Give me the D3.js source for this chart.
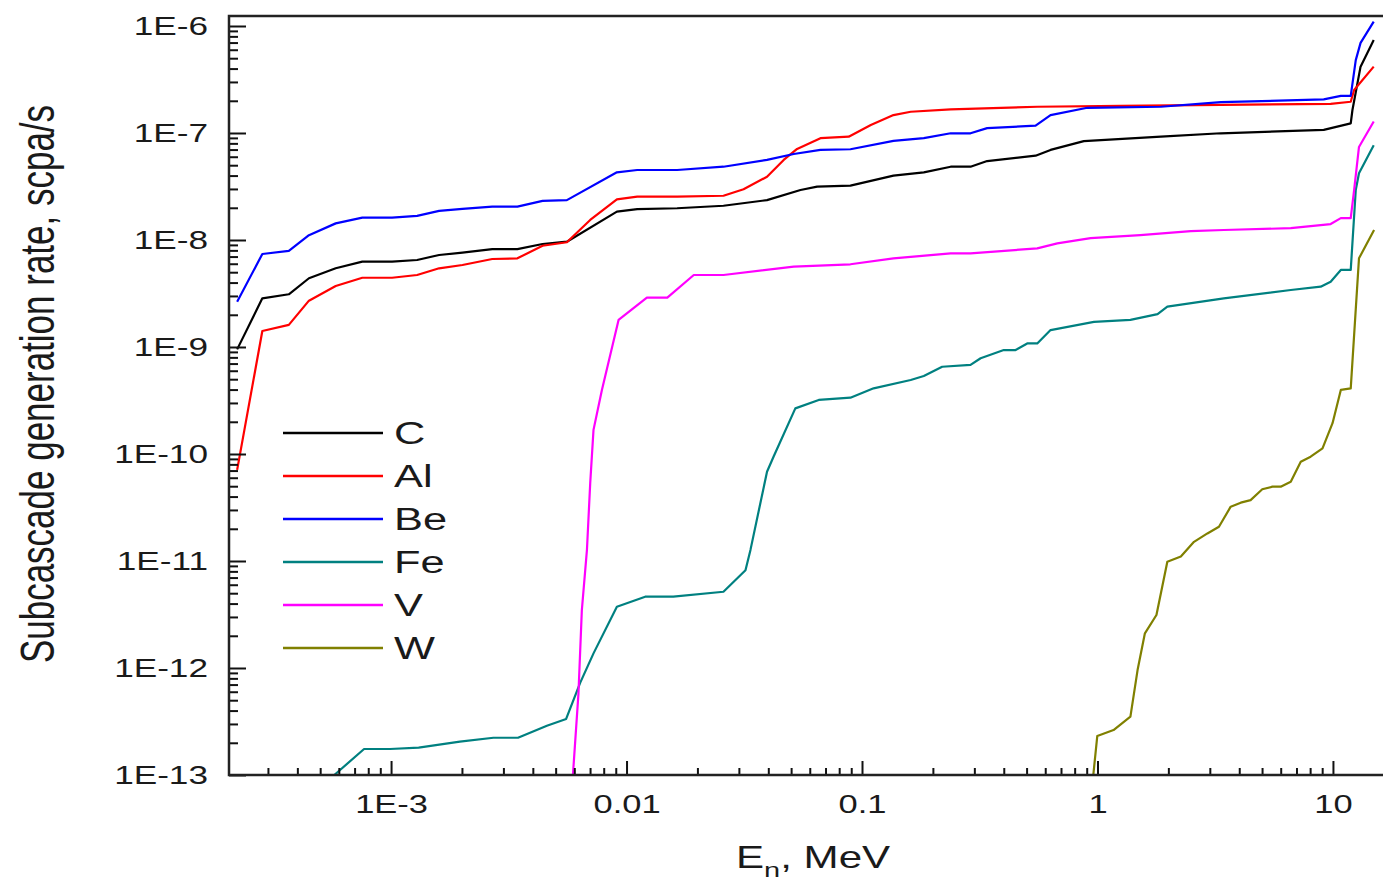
<!DOCTYPE html>
<html lang="en">
<head>
<meta charset="utf-8">
<title>Subcascade generation rate</title>
<script src="https://d3js.org/d3.v7.min.js"></script>
<style type="text/css">
  body {
    margin: 0;
    background: #fff;
  }
  text {
    font-family: Arial, "Liberation Sans", sans-serif;
    fill: #1a1a1a;
  }
  .series {
    fill: none;
    stroke-width: 2.2;
    stroke-linejoin: round;
  }
  .frame {
    fill: none;
    stroke: #222;
    stroke-width: 2.5;
  }
</style>
</head>
<body>
<script type="text/javascript">

// neutron energy E_n (MeV) vs subcascade generation rate (scpa/s)
var C = [[2.22e-4, 9.5e-10], [2.84e-4, 2.85e-9], [3.68e-4, 3.11e-9], [4.48e-4, 4.39e-9], [5.82e-4, 5.44e-9],
         [7.55e-4, 6.27e-9], [1.01e-3, 6.27e-9], [1.29e-3, 6.5e-9], [1.6e-3, 7.24e-9], [2.01e-3, 7.62e-9],
         [2.69e-3, 8.23e-9], [3.44e-3, 8.23e-9], [4.4e-3, 9.18e-9], [5.58e-3, 9.64e-9], [9.1e-3, 1.84e-8],
         [0.0111, 1.94e-8], [0.0164, 1.98e-8], [0.0258, 2.09e-8], [0.0395, 2.36e-8], [0.0548, 2.93e-8],
         [0.0645, 3.15e-8], [0.0893, 3.22e-8], [0.136, 3.99e-8], [0.183, 4.29e-8], [0.238, 4.84e-8],
         [0.289, 4.84e-8], [0.34, 5.47e-8], [0.546, 6.14e-8], [0.632, 6.95e-8], [0.875, 8.4e-8],
         [1.86, 9.23e-8], [3.34, 9.94e-8], [9.14, 1.07e-7], [11.9, 1.23e-7], [12.1, 1.64e-7],
         [13.1, 4.17e-7], [14.9, 7.4e-7]];

var Al = [[2.22e-4, 7.1e-11], [2.84e-4, 1.41e-9], [3.68e-4, 1.61e-9], [4.48e-4, 2.71e-9], [5.82e-4, 3.71e-9],
          [7.55e-4, 4.44e-9], [1.01e-3, 4.44e-9], [1.29e-3, 4.71e-9], [1.6e-3, 5.44e-9], [2.01e-3, 5.84e-9],
          [2.69e-3, 6.64e-9], [3.44e-3, 6.74e-9], [4.4e-3, 8.84e-9], [5.58e-3, 9.52e-9], [7.01e-3, 1.54e-8],
          [9.1e-3, 2.4e-8], [0.0111, 2.54e-8], [0.0164, 2.54e-8], [0.0258, 2.59e-8], [0.0314, 2.98e-8],
          [0.0395, 3.9e-8], [0.0465, 5.6e-8], [0.053, 7.1e-8], [0.0666, 8.95e-8], [0.0878, 9.23e-8],
          [0.109, 1.19e-7], [0.136, 1.47e-7], [0.161, 1.58e-7], [0.238, 1.66e-7], [0.555, 1.76e-7],
          [1.25, 1.79e-7], [3.34, 1.83e-7], [9.78, 1.87e-7], [11.9, 1.96e-7], [12.3, 2.52e-7],
          [14.9, 4.17e-7]];

var Be = [[2.22e-4, 2.65e-9], [2.84e-4, 7.4e-9], [3.68e-4, 7.9e-9], [4.48e-4, 1.11e-8], [5.82e-4, 1.43e-8],
          [7.55e-4, 1.62e-8], [1.01e-3, 1.62e-8], [1.29e-3, 1.68e-8], [1.6e-3, 1.87e-8], [2.01e-3, 1.95e-8],
          [2.69e-3, 2.05e-8], [3.44e-3, 2.05e-8], [4.4e-3, 2.32e-8], [5.58e-3, 2.36e-8], [9.1e-3, 4.29e-8],
          [0.0111, 4.51e-8], [0.0164, 4.51e-8], [0.0258, 4.84e-8], [0.0395, 5.6e-8], [0.0513, 6.36e-8],
          [0.0666, 6.95e-8], [0.0893, 7.05e-8], [0.136, 8.45e-8], [0.183, 8.95e-8], [0.238, 9.94e-8],
          [0.289, 9.94e-8], [0.34, 1.11e-7], [0.546, 1.17e-7], [0.632, 1.47e-7], [0.905, 1.72e-7],
          [1.86, 1.76e-7], [3.34, 1.94e-7], [9.14, 2.06e-7], [10.8, 2.22e-7], [11.9, 2.22e-7],
          [12.5, 4.8e-7], [13.1, 6.95e-7], [14.9, 1.1e-6]];

var Fe = [[5.74e-4, 1e-13], [7.68e-4, 1.75e-13], [9.9e-4, 1.75e-13], [1.31e-3, 1.8e-13], [1.96e-3, 2.05e-13],
          [2.72e-3, 2.23e-13], [3.46e-3, 2.23e-13], [4.59e-3, 2.89e-13], [5.54e-3, 3.34e-13], [6.36e-3, 7.3e-13],
          [7.24e-3, 1.37e-12], [9.1e-3, 3.74e-12], [0.012, 4.64e-12], [0.0158, 4.64e-12], [0.0258, 5.16e-12],
          [0.032, 8.2e-12], [0.0336, 1.27e-11], [0.0395, 6.83e-11], [0.0421, 9.43e-11], [0.0521, 2.67e-10],
          [0.0655, 3.2e-10], [0.0893, 3.36e-10], [0.112, 4.11e-10], [0.161, 4.92e-10], [0.183, 5.35e-10],
          [0.219, 6.54e-10], [0.289, 6.8e-10], [0.319, 7.85e-10], [0.4, 9.36e-10], [0.449, 9.36e-10],
          [0.503, 1.08e-9], [0.555, 1.08e-9], [0.632, 1.44e-9], [0.966, 1.72e-9], [1.38, 1.79e-9],
          [1.8, 2.03e-9], [1.98, 2.38e-9], [3.44, 2.85e-9], [6.62, 3.41e-9], [8.87, 3.66e-9],
          [9.78, 4.08e-9], [10.8, 5.25e-9], [11.9, 5.25e-9], [12.5, 2.93e-8], [12.9, 4.2e-8],
          [14.9, 7.7e-8]];

var V = [[5.92e-3, 1e-13], [6.25e-3, 5.8e-13], [6.46e-3, 3.48e-12], [6.79e-3, 1.27e-11], [7.01e-3, 5.32e-11],
         [7.24e-3, 1.68e-10], [7.86e-3, 3.97e-10], [9.25e-3, 1.79e-9], [0.0122, 2.89e-9], [0.0149, 2.89e-9],
         [0.0193, 4.71e-9], [0.0258, 4.71e-9], [0.0513, 5.64e-9], [0.0893, 5.93e-9], [0.136, 6.74e-9],
         [0.238, 7.5e-9], [0.289, 7.5e-9], [0.555, 8.36e-9], [0.675, 9.3e-9], [0.935, 1.04e-8],
         [1.52, 1.11e-8], [2.49, 1.21e-8], [3.44, 1.24e-8], [6.62, 1.29e-8], [9.78, 1.41e-8],
         [10.8, 1.6e-8], [11.9, 1.6e-8], [12.3, 2.93e-8], [12.9, 7.4e-8], [14.9, 1.28e-7]];

var W = [[0.96, 1e-13], [0.998, 2.31e-13], [1.17, 2.63e-13], [1.38, 3.51e-13], [1.48, 9.57e-13],
         [1.59, 2.11e-12], [1.78, 3.13e-12], [1.98, 9.85e-12], [2.26, 1.1e-11], [2.57, 1.51e-11],
         [2.93, 1.81e-11], [3.28, 2.09e-11], [3.68, 3.22e-11], [4.06, 3.51e-11], [4.47, 3.71e-11],
         [5.01, 4.68e-11], [5.53, 4.95e-11], [6.0, 4.95e-11], [6.62, 5.51e-11], [7.3, 8.45e-11],
         [8.04, 9.43e-11], [9.03, 1.13e-10], [9.96, 1.94e-10], [10.8, 3.97e-10], [11.9, 4.11e-10],
         [12.9, 6.74e-9], [14.95, 1.24e-8]];

var names = ["C", "Al", "Be", "Fe", "V", "W"];
var colors = ["#000000", "#ff0000", "#0000ff", "#008080", "#ff00ff", "#808000"];
var seriesData = [C, Al, Be, Fe, V, W];

var xTicks = [1e-3, 1e-2, 1e-1, 1, 10];
var xTickLabels = ["1E-3", "0.01", "0.1", "1", "10"];
var yTicks = [1e-13, 1e-12, 1e-11, 1e-10, 1e-9, 1e-8, 1e-7, 1e-6];
var yTickLabels = ["1E-13", "1E-12", "1E-11", "1E-10", "1E-9", "1E-8", "1E-7", "1E-6"];

var w = 1383, h = 884;
var stretch = 1.38;   // the original figure is widened, text included

var x = d3.scaleLog().domain([2.05e-4, 16.8]).range([229, 1386]);
var y = d3.scaleLog().domain([1e-13, 1.24e-6]).range([775, 16]);

// minor ticks 2..9 within each decade that falls inside the domain
function minors(scale) {
    var d = scale.domain(), out = [];
    for (var e = Math.floor(Math.log10(d[0])); e <= Math.ceil(Math.log10(d[1])); e++) {
        for (var m = 2; m <= 9; m++) {
            var v = m * Math.pow(10, e);
            if (v >= d[0] && v <= d[1]) out.push(v);
        }
    }
    return out;
}

var svg = d3.select("body")
            .append("svg")
            .attr("width", w)
            .attr("height", h);

svg.append("rect").attr("width", w).attr("height", h).style("fill", "#fff");

svg.append("clipPath").attr("id", "plot")
   .append("rect")
   .attr("x", x.range()[0]).attr("y", y.range()[1])
   .attr("width", x.range()[1] - x.range()[0])
   .attr("height", y.range()[0] - y.range()[1]);

var line = d3.line()
             .x(function (d) { return x(d[0]); })
             .y(function (d) { return y(d[1]); });

svg.append("g")
   .attr("clip-path", "url(#plot)")
   .selectAll("path")
   .data(seriesData)
   .enter()
   .append("path")
   .attr("class", "series")
   .attr("d", line)
   .style("stroke", function (d, i) { return colors[i]; });

// x axis: ticks point inward
var xg = svg.append("g").attr("transform", "translate(0," + y.range()[0] + ")").attr("color", "#111");
xg.call(d3.axisBottom(x).tickValues(minors(x)).tickSize(-7).tickSizeOuter(0).tickFormat(""));
xg.append("g").call(d3.axisBottom(x).tickValues(xTicks).tickSize(-14).tickSizeOuter(0).tickPadding(20)
                    .tickFormat(function (d, i) { return xTickLabels[i]; }));
xg.selectAll("path.domain").remove();
xg.selectAll("line").attr("stroke-width", 2);
xg.selectAll("text")
  .style("font-size", "25px")
  .attr("transform", "scale(" + stretch + ",1)");

// y axis
var yg = svg.append("g").attr("transform", "translate(" + x.range()[0] + ",0)").attr("color", "#111");
yg.call(d3.axisLeft(y).tickValues(minors(y)).tickSize(-9).tickSizeOuter(0).tickFormat(""));
yg.append("g").call(d3.axisLeft(y).tickValues(yTicks).tickSize(-17).tickSizeOuter(0)
                    .tickFormat(function (d, i) { return yTickLabels[i]; }));
yg.selectAll("path.domain").remove();
yg.selectAll("line").attr("stroke-width", 2);
yg.selectAll("text")
  .style("font-size", "25.5px")
  .attr("x", -21 / stretch)
  .attr("dy", "0.33em")
  .attr("transform", "scale(" + stretch + ",1)");

// frame: left, bottom, top (right side is cut off in the picture)
svg.append("path")
   .attr("class", "frame")
   .attr("d", "M" + x.range()[1] + "," + y.range()[1] + "H" + x.range()[0] +
              "V" + y.range()[0] + "H" + x.range()[1]);

// axis titles
var xt = svg.append("text")
            .attr("transform", "translate(736,868) scale(" + stretch + ",1)")
            .style("font-size", "30.5px");
xt.append("tspan").text("E");
xt.append("tspan").attr("dy", 9).style("font-size", "21px").text("n");
xt.append("tspan").attr("dy", -9).text(", MeV");

svg.append("text")
   .attr("transform", "translate(54,384) scale(" + stretch + ",1) rotate(-90)")
   .attr("text-anchor", "middle")
   .style("font-size", "35px")
   .text("Subcascade generation rate, scpa/s");

// legend
var legend = svg.append("g")
                .selectAll("g")
                .data(names)
                .enter()
                .append("g")
                .attr("transform", function (d, i) { return "translate(283," + (433 + i * 43) + ")"; });

legend.append("line")
      .attr("x1", 0).attr("x2", 100)
      .style("stroke", function (d, i) { return colors[i]; })
      .style("stroke-width", 2.4);

legend.append("text")
      .attr("transform", "translate(111,0) scale(1.4,1)")
      .attr("dy", "0.36em")
      .style("font-size", "31px")
      .text(function (d) { return d; });

</script>
</body>
</html>
